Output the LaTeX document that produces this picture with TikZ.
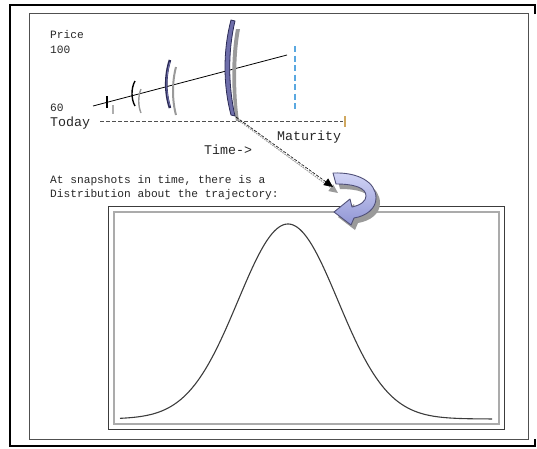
\documentclass[tikz,border=0pt]{standalone}
\usepackage{fontspec}
\newfontfamily\monof{Liberation Mono}
\usetikzlibrary{arrows.meta}
\definecolor{txt}{HTML}{262626}
\definecolor{frameg}{HTML}{505050}
\definecolor{boxg}{HTML}{3C3C3C}
\definecolor{boxl}{HTML}{ABABAB}
\definecolor{navy}{HTML}{2A2A55}
\definecolor{slate}{HTML}{6E6EAA}
\definecolor{lavtop}{HTML}{D2D5F6}
\definecolor{lavbot}{HTML}{9095D4}
\definecolor{lavline}{HTML}{505078}
\definecolor{mblue}{HTML}{5AA8E0}
\definecolor{tan}{HTML}{D0A860}
\definecolor{shad}{HTML}{9A9A9A}
\tikzset{
  smalltxt/.style={anchor=base west,inner sep=0pt,text=txt,font=\monof\fontsize{11.2}{13}\selectfont},
  bigtxt/.style={anchor=base west,inner sep=0pt,text=txt,font=\monof\fontsize{13.3}{15}\selectfont},
}
\begin{document}
\begin{tikzpicture}[x=1pt,y=-1pt]
\useasboundingbox (0,0) rectangle (537,448);
% outer black frame (right side only at corners)
\draw[black,line width=2pt] (535,14) -- (535,5) -- (10,5) -- (10,446) -- (535,446) -- (535,439);
% inner frame
\draw[frameg,line width=1pt] (29,13) rectangle (528,439);

% texts
\node[smalltxt] (price) at (50,38) {Price};
\node[smalltxt] (p100) at (50,53) {100};
\node[smalltxt] (p60) at (50,111) {60};
\node[bigtxt] (today) at (50,126) {Today};
\node[bigtxt] (mat) at (277,140) {Maturity};
\node[bigtxt] (time) at (204,154) {Time->};
\node[smalltxt] (snap1) at (50,183) {At snapshots in time, there is a};
\node[smalltxt] (snap2) at (50,197) {Distribution about the trajectory:};

% time axis
\coordinate (ax0) at (100,121);
\coordinate (ax1) at (343,121);
\draw[frameg,line width=1pt,dash pattern=on 4pt off 2pt] (ax0) -- (ax1);
\draw[tan,line width=1.2pt] (345,116) -- (345,127);
% maturity blue dashed
\draw[mblue,line width=1.3pt,dash pattern=on 6pt off 3.5pt] (295,46) -- (295,112);
% trajectory
\coordinate (tr0) at (93,106);
\coordinate (tr1) at (287,55);
\draw[black,line width=0.8pt] (tr0) -- (tr1);

% brackets: shadows
\draw[shad!80,line width=1.3pt] (113,105) -- (113,114);
\draw[shad,line width=1.4pt] (141,89) .. controls (138,96) and (138,106) .. (141,113);
\draw[shad,line width=2pt] (176,67) .. controls (172,82) and (172,100) .. (176,115);
\fill[shad] (236,29) .. controls (231,55) and (231,95) .. (236,121) -- (239,121) .. controls (235,95) and (235,55) .. (240,29) -- cycle;
% brackets
\draw[black,line width=1.4pt] (107,96) -- (107,108);
\draw[black,line width=1.4pt] (135,81) .. controls (131,88) and (131,99) .. (135,106);
\draw[navy,line width=2.6pt] (170,60) .. controls (165,75) and (165,93) .. (170,108);
\draw[slate,line width=0.9pt] (170,62) .. controls (165.6,75) and (165.6,93) .. (170,106);
\filldraw[fill=slate,draw=navy,line width=0.8pt] (231,20) .. controls (223,50) and (223,85) .. (231,115) -- (235,116) .. controls (228,85) and (228,50) .. (235,21) -- cycle;

% chart boxes
\draw[boxg,line width=1pt] (108,206) rectangle (504,429);
\draw[boxl,line width=1.3pt] (114,212) rectangle (499,424);
% bell curve
\draw[boxg,line width=1.1pt] plot[domain=120:492,samples=160,smooth] (\x,{419-195*exp(-0.5*((\x-288)/50)^2)});

% dotted connector from big bracket to curved arrow
\coordinate (bb) at (236,117);
\coordinate (tip) at (333,187);
\coordinate (bbs) at (238,120);
\coordinate (tips) at (338,193);
\draw[shad,line width=1pt,dash pattern=on 1.5pt off 1pt,-{Triangle[length=9pt,width=8pt]}] (bbs) -- (tips);
\draw[black,line width=0.6pt,dash pattern=on 3pt off 1.5pt,-{Triangle[length=9pt,width=8pt]}] (bb) -- (tip);

% curved arrow: shadow
\fill[shad,shift={(4,5)}] (333,173) .. controls (358,172) and (376,182) .. (376,198) .. controls (376,209) and (366,216) .. (354,218) -- (351,225) -- (334,212) -- (350,199) -- (352,207) .. controls (361,205) and (366,201) .. (366,196) .. controls (366,188) and (355,184) .. (336,184) -- cycle;
% curved arrow
\shade[top color=lavtop,bottom color=lavbot] (333,173) .. controls (358,172) and (376,182) .. (376,198) .. controls (376,209) and (366,216) .. (354,218) -- (351,225) -- (334,212) -- (350,199) -- (352,207) .. controls (361,205) and (366,201) .. (366,196) .. controls (366,188) and (355,184) .. (336,184) -- cycle;
\draw[lavline,line width=0.9pt,line join=round] (333,173) .. controls (358,172) and (376,182) .. (376,198) .. controls (376,209) and (366,216) .. (354,218) -- (351,225) -- (334,212) -- (350,199) -- (352,207) .. controls (361,205) and (366,201) .. (366,196) .. controls (366,188) and (355,184) .. (336,184) -- cycle;
\end{tikzpicture}
\end{document}
